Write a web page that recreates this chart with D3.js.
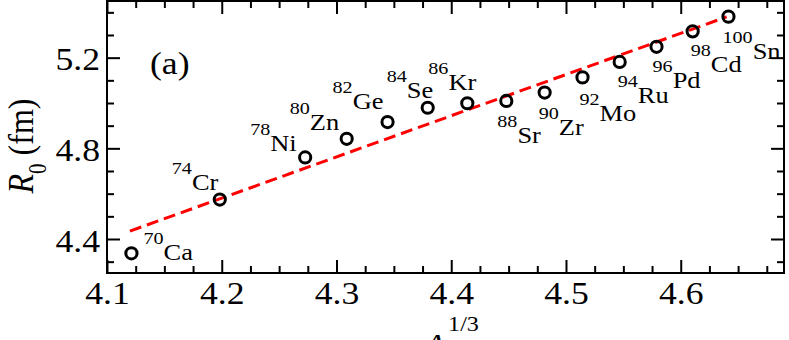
<!DOCTYPE html>
<html>
<head>
<meta charset="utf-8">
<script src="https://cdn.jsdelivr.net/npm/d3@7"></script>
<style>
  body { margin: 0; background: #fff; }
  svg { display: block; }
  svg text { font-family: "Liberation Serif", Tinos, "Times New Roman", Times, serif !important; fill: #000; }
</style>
</head>
<body>
<div id="wrapper"></div>
<script>
// 1. Access data
const massNumbers = [70, 74, 78, 80, 82, 84, 86, 88, 90, 92, 94, 96, 98, 100]
const elements = ["Ca", "Cr", "Ni", "Zn", "Ge", "Se", "Kr", "Sr", "Zr", "Mo", "Ru", "Pd", "Cd", "Sn"]
const a13 = [4.1213, 4.1983, 4.2727, 4.3089, 4.3445, 4.3795, 4.4140,
    4.4480, 4.4814, 4.5144, 4.5468, 4.5789, 4.6104, 4.6416]
const r0 = [4.337, 4.574, 4.760, 4.842, 4.916, 4.979, 4.999,
    5.009, 5.046, 5.113, 5.181, 5.248, 5.316, 5.381]

// dashed fit line end points
const fitA13 = [4.12, 4.64]
const fitR0 = [4.435, 5.38]

const xTicks = [4.1, 4.2, 4.3, 4.4, 4.5, 4.6]
const yTicks = [4.4, 4.8, 5.2]

// label placement (px from the circle centre to the start of the mass number)
const labelOffsets = [
    [12, -9], [-48, -26], [-55, -22], [-57, -25], [-55, -29], [-41, -26], [-39, -29],
    [-9, 26], [-6, 26], [-3, 28], [-2, 25], [-4, 25], [-2, 25], [-6, 26],
]

const points = a13.map((x, i) => ({
    x: x, y: r0[i], mass: massNumbers[i], el: elements[i], off: labelOffsets[i]
}))

// the picture is a bit wider than tall, text looks stretched sideways
const stretch = 1.15
const serif = "'Liberation Serif', Tinos, 'Times New Roman', Times, serif"

// 2. Create chart dimensions
let dimensions = {
    width: 789,
    height: 340,
    margin: { top: 1, right: 5, bottom: 67, left: 107 },
}
dimensions.boundedWidth = dimensions.width - dimensions.margin.left - dimensions.margin.right
dimensions.boundedHeight = dimensions.height - dimensions.margin.top - dimensions.margin.bottom

// 3. Draw canvas
const wrapper = d3.select("#wrapper")
    .append("svg")
    .attr("width", dimensions.width)
    .attr("height", dimensions.height)
    .attr("font-family", serif)

const bounds = wrapper.append("g")
    .attr("transform", `translate(${dimensions.margin.left},${dimensions.margin.top})`)

// 4. Create scales
const xScale = d3.scaleLinear()
    .domain([4.1, 4.69])
    .range([0, dimensions.boundedWidth])

const yScale = d3.scaleLinear()
    .domain([4.25, 5.45])
    .range([dimensions.boundedHeight, 0])

// 5. Draw data
const fitLine = d3.line()
    .x(d => xScale(d[0]))
    .y(d => yScale(d[1]))

bounds.append("path")
    .datum(fitA13.map((x, i) => [x, fitR0[i]]))
    .attr("d", fitLine)
    .attr("fill", "none")
    .attr("stroke", "#ff0000")
    .attr("stroke-width", 3)
    .attr("stroke-dasharray", "12,6")

bounds.selectAll("circle")
    .data(points)
    .enter()
    .append("circle")
    .attr("cx", d => xScale(d.x))
    .attr("cy", d => yScale(d.y))
    .attr("r", 5.6)
    .attr("fill", "none")
    .attr("stroke", "#000")
    .attr("stroke-width", 3)

const labels = bounds.selectAll(".nuc")
    .data(points)
    .enter()
    .append("text")
    .attr("class", "nuc")
    .attr("font-family", serif)
    .attr("transform", d => `translate(${xScale(d.x) + d.off[0]},${yScale(d.y) + d.off[1]}) scale(${stretch},1)`)

labels.append("tspan")
    .style("font-size", "17.5px")
    .text(d => d.mass)

labels.append("tspan")
    .attr("dy", 16)
    .style("font-size", "23px")
    .text(d => d.el)

// 6. Draw peripherals
const minorX = d3.range(4.1, 4.69, 0.025).filter(v => !xTicks.some(t => Math.abs(t - v) < 1e-6))
const minorY = d3.range(4.3, 5.45, 0.1).filter(v => !yTicks.some(t => Math.abs(t - v) < 1e-6))

function styleAxis(g) {
    g.attr("font-family", serif)
    g.selectAll("path, line").attr("stroke", "#000").attr("stroke-width", 2)
    g.select(".domain").remove()
}

// major and minor ticks on all four sides, pointing inward
const axes = [
    { gen: d3.axisBottom, scale: xScale, ticks: xTicks, minor: minorX, pos: `translate(0,${dimensions.boundedHeight})` },
    { gen: d3.axisTop, scale: xScale, ticks: xTicks, minor: minorX, pos: "translate(0,0)" },
    { gen: d3.axisLeft, scale: yScale, ticks: yTicks, minor: minorY, pos: "translate(0,0)" },
    { gen: d3.axisRight, scale: yScale, ticks: yTicks, minor: minorY, pos: `translate(${dimensions.boundedWidth},0)` },
]

axes.forEach(a => {
    bounds.append("g")
        .attr("transform", a.pos)
        .call(a.gen(a.scale).tickValues(a.minor).tickSize(-7).tickSizeOuter(0).tickFormat(""))
        .call(styleAxis)
    a.axis = bounds.append("g")
        .attr("transform", a.pos)
        .call(a.gen(a.scale).tickValues(a.ticks).tickSize(-13).tickSizeOuter(0).tickFormat(d3.format(".1f")))
        .call(styleAxis)
})

// only bottom and left keep their numbers
axes[1].axis.selectAll("text").remove()
axes[3].axis.selectAll("text").remove()

axes[0].axis.selectAll("text")
    .attr("y", null).attr("dy", null)
    .attr("transform", `translate(0,31) scale(${stretch},1)`)
    .attr("text-anchor", "middle")
    .style("font-size", "31px")
    .attr("fill", "#000")

axes[2].axis.selectAll("text")
    .attr("x", null).attr("dy", null)
    .attr("transform", `translate(-7,12) scale(${stretch},1)`)
    .attr("text-anchor", "end")
    .style("font-size", "31px")
    .attr("fill", "#000")

// frame
bounds.append("rect")
    .attr("width", dimensions.boundedWidth)
    .attr("height", dimensions.boundedHeight)
    .attr("fill", "none")
    .attr("stroke", "#000")
    .attr("stroke-width", 2)

// panel tag
bounds.append("text")
    .attr("transform", `translate(43,73) scale(${stretch},1)`)
    .style("font-size", "31px")
    .text("(a)")

// y label: R_0 (fm)
const yLabel = wrapper.append("text")
    .attr("transform", `translate(33,146) scale(${stretch},1) rotate(-90)`)
    .attr("text-anchor", "middle")
    .style("font-size", "32px")
yLabel.append("tspan").style("font-style", "italic").text("R")
yLabel.append("tspan").attr("dy", 11).style("font-size", "21px").text("0")
yLabel.append("tspan").attr("dy", -11).text("\u00a0(fm)")

// x label: A^(1/3), mostly cut off at the bottom like in the original
const xLabel = wrapper.append("text")
    .attr("transform", `translate(424,356) scale(${stretch},1)`)
    .style("font-size", "31px")
xLabel.append("tspan").style("font-style", "italic").text("A")
xLabel.append("tspan").attr("dx", 2).attr("dy", -25).style("font-size", "21px").text("1/3")
</script>
</body>
</html>
